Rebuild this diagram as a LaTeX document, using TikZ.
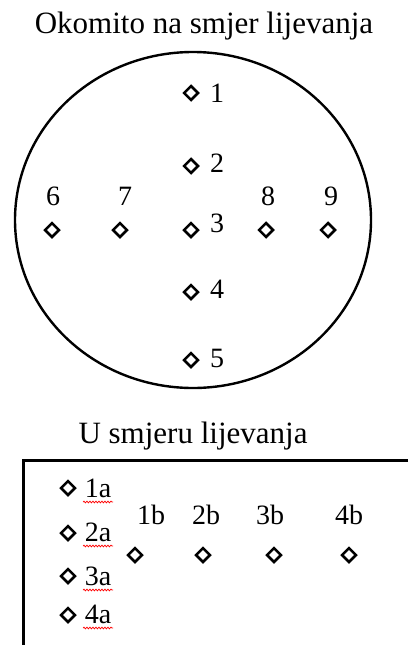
\documentclass[tikz,border=0pt]{standalone}
\usepackage{fontspec}
\setmainfont{Liberation Serif}
\usetikzlibrary{shapes.geometric,decorations.pathmorphing}
\begin{document}
\begin{tikzpicture}[x=1pt,y=-1pt,
  pt/.style={diamond,draw,line width=2.5pt,minimum width=15pt,minimum height=15pt,inner sep=0pt},
  lbl/.style={anchor=base,inner sep=0pt,font=\fontsize{28}{30}\selectfont},
  ttl/.style={anchor=base,inner sep=0pt,font=\fontsize{31}{33}\selectfont},
  squig/.style={red,line width=0.7pt,decorate,decoration={snake,amplitude=0.9pt,segment length=3pt}}]
\useasboundingbox (0,0) rectangle (408,645);
% top part
\node[ttl] (t1) at (204,33) {Okomito na smjer lijevanja};
\draw[line width=2.4pt] (193,220) ellipse [x radius=178, y radius=168];
\node[pt] (p1) at (191,93) {};
\node[pt] (p2) at (191,166) {};
\node[pt] (p3) at (191,230) {};
\node[pt] (p4) at (191,292) {};
\node[pt] (p5) at (191,360) {};
\node[pt] (p6) at (52,230) {};
\node[pt] (p7) at (120,230) {};
\node[pt] (p8) at (266,230) {};
\node[pt] (p9) at (328,230) {};
\node[lbl] (l1) at (217,102) {1};
\node[lbl] (l2) at (217,172) {2};
\node[lbl] (l3) at (217,232) {3};
\node[lbl] (l4) at (217,298) {4};
\node[lbl] (l5) at (217,367) {5};
\node[lbl] (l6) at (53,205) {6};
\node[lbl] (l7) at (125,205) {7};
\node[lbl] (l8) at (268,205) {8};
\node[lbl] (l9) at (331,205) {9};
% bottom part
\node[ttl] (t2) at (193,443) {U smjeru lijevanja};
\coordinate (rtr) at (408,460);
\coordinate (rtl) at (23,460);
\coordinate (rbl) at (23,645);
\draw[line width=3pt] (rtr) -- (rtl) -- (rbl);
\node[pt] (a1) at (68,488) {};
\node[pt] (a2) at (68,533) {};
\node[pt] (a3) at (68,576) {};
\node[pt] (a4) at (68,615) {};
\node[lbl] (la1) at (98,497) {1a};
\node[lbl] (la2) at (98,541) {2a};
\node[lbl] (la3) at (98,585) {3a};
\node[lbl] (la4) at (98,623) {4a};
\foreach \n in {la1,la2,la3,la4}{
  \draw[squig] ([xshift=-15pt,yshift=-5pt]\n.base) -- ([xshift=15pt,yshift=-5pt]\n.base);
}
\node[pt] (b1) at (135,555) {};
\node[pt] (b2) at (203,555) {};
\node[pt] (b3) at (274,555) {};
\node[pt] (b4) at (349,555) {};
\node[lbl] (lb1) at (151,524) {1b};
\node[lbl] (lb2) at (206,524) {2b};
\node[lbl] (lb3) at (270,524) {3b};
\node[lbl] (lb4) at (349,524) {4b};
\end{tikzpicture}
\end{document}
